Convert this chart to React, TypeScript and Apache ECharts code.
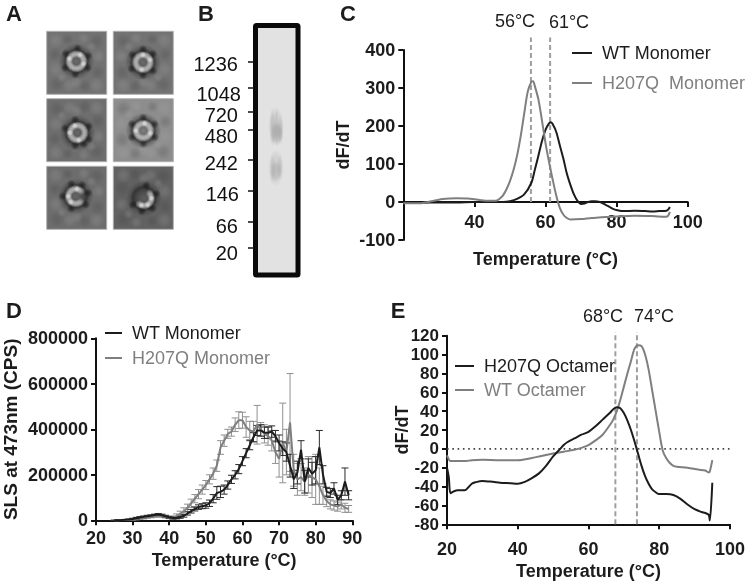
import React, { useEffect, useRef } from "react";
import * as echarts from "echarts";

const FONT = '"Liberation Sans", Arial, sans-serif';
const INK = "#1c1c1c";
const GREY = "#7f7f7f";

// Panel C
const cWtT = [20, 25, 30, 35, 40, 45, 48, 50, 52, 54, 56, 57, 58, 59, 60, 61, 61.5, 62, 63, 64, 65, 66, 67, 68, 69, 70, 71, 72, 73, 74, 75, 76, 77, 78, 79, 80, 82, 85, 88, 90, 92, 94, 94.5, 95];
const cWtV = [-2, -2, -1, -1, 0, 0, 0, 2, 8, 20, 50, 85, 122, 160, 190, 207, 210, 205, 185, 150, 115, 75, 45, 20, 3, -5, -4, 0, 2, 2, 1, -3, -8, -13, -18, -21, -24, -23, -24, -25, -24, -23, -20, -13];
const cH207T = [20, 25, 27, 30, 33, 35, 38, 41, 44, 46, 47, 48, 49, 50, 51, 52, 53, 54, 55, 56, 56.5, 57, 58, 59, 60, 61, 62, 63, 64, 65, 66, 67, 70, 73, 75, 80, 85, 90, 94, 94.5, 95];
const cH207V = [-3, -3, 0, 6, 9, 10, 9, 6, 3, 3, 8, 17, 33, 55, 84, 122, 172, 232, 290, 316, 318, 305, 270, 215, 155, 105, 60, 18, -15, -33, -42, -46, -45, -42, -41, -38, -36, -37, -39, -36, -26];

// Panel D
const dTemp = [25, 26, 27, 28, 29, 30, 31, 32, 33, 34, 35, 36, 37, 38, 39, 40, 41, 42, 43, 44, 45, 46, 47, 48, 49, 50, 51, 52, 53, 54, 55, 56, 57, 58, 59, 60, 61, 62, 63, 64, 65, 66, 67, 68, 69, 70, 71, 72, 73, 74, 75, 76, 77, 78, 79, 80, 81, 82, 83, 84, 85, 86, 87, 88, 89];
const dWt = [0, 500, 1000, 2500, 4000, 6000, 9000, 12000, 15000, 18000, 20000, 23000, 25000, 22000, 18000, 13000, 10000, 11000, 14000, 20000, 30000, 40000, 50000, 58000, 62000, 65000, 75000, 95000, 120000, 125000, 135000, 155000, 180000, 200000, 225000, 260000, 295000, 330000, 365000, 395000, 395000, 385000, 385000, 390000, 370000, 340000, 315000, 300000, 240000, 180000, 210000, 310000, 170000, 230000, 205000, 220000, 320000, 200000, 125000, 120000, 140000, 90000, 110000, 170000, 110000];
const dWtErr = [0, 300, 500, 1000, 2000, 3000, 4000, 4000, 4000, 4000, 4000, 4000, 5000, 5000, 4000, 4000, 4000, 5000, 5000, 6000, 7000, 8000, 9000, 10000, 11000, 12000, 14000, 18000, 28000, 25000, 20000, 18000, 18000, 18000, 20000, 20000, 20000, 20000, 20000, 22000, 25000, 25000, 25000, 25000, 25000, 35000, 30000, 40000, 50000, 40000, 50000, 40000, 50000, 40000, 50000, 60000, 75000, 40000, 20000, 20000, 25000, 20000, 20000, 60000, 20000];
const dH207 = [0, 300, 800, 1500, 2500, 4000, 6000, 9000, 11000, 14000, 16000, 18000, 20000, 18000, 15000, 12000, 12000, 18000, 28000, 40000, 55000, 75000, 95000, 115000, 135000, 155000, 180000, 205000, 240000, 320000, 350000, 380000, 390000, 420000, 440000, 440000, 410000, 395000, 390000, 420000, 400000, 380000, 370000, 350000, 300000, 270000, 340000, 300000, 430000, 220000, 180000, 190000, 170000, 200000, 190000, 180000, 150000, 110000, 85000, 70000, 65000, 60000, 70000, 55000, 50000];
const dH207Err = [0, 200, 500, 800, 1500, 3000, 4000, 5000, 5000, 5000, 5000, 5000, 5000, 5000, 5000, 5000, 7000, 10000, 12000, 15000, 16000, 18000, 18000, 20000, 20000, 20000, 20000, 25000, 25000, 30000, 25000, 20000, 20000, 30000, 37000, 35000, 45000, 40000, 45000, 85000, 30000, 40000, 40000, 45000, 50000, 80000, 175000, 100000, 215000, 70000, 70000, 60000, 60000, 80000, 90000, 110000, 80000, 40000, 25000, 20000, 20000, 20000, 20000, 20000, 15000];

// Panel E
const eH207T = [20, 20.5, 21, 22, 23, 25, 26, 27, 28, 30, 33, 35, 38, 40, 42, 44, 46, 48, 50, 52, 53, 54, 56, 58, 60, 62, 64, 66, 67, 68, 69, 70, 71, 72, 73, 74, 75, 76, 77, 78, 79, 80, 82, 84, 86, 88, 90, 92, 93, 94, 94.3, 95];
const eH207V = [-20, -30, -47, -45, -44, -44, -41, -37, -35.5, -34, -35, -36, -36.5, -37, -35, -31, -26, -18, -8, 0, 4, 7, 11, 15, 18, 24, 31, 38, 42, 44, 43, 38, 30, 20, 8, -5, -18, -29, -37, -43, -46, -48, -48, -49, -53, -59, -64, -67, -68, -70, -76, -36];
const eWtT = [20, 21, 22, 25, 27, 30, 35, 40, 43, 46, 50, 53, 56, 58, 60, 62, 64, 66, 67, 68, 69, 70, 71, 72, 73, 74, 75, 76, 77, 78, 79, 80, 81, 82, 83, 84, 85, 88, 91, 93, 94, 94.3, 95];
const eWtV = [-7, -13, -13, -13, -12, -11.5, -12, -12, -10.5, -8, -5, -3, -1, 1, 4, 9, 15, 25, 31, 40, 52, 66, 80, 93, 106, 110, 109, 100, 84, 62, 40, 18, -2, -10, -15, -18, -19, -20, -22, -23, -25, -24, -12];

// Panel B
const gelLabels = ["1236", "1048", "720", "480", "242", "146", "66", "20"];

// Page layout
const gelLabelY = [64, 94, 115, 136, 163, 194, 226, 253];
const gelLabelRight = [238, 241, 238, 238, 238, 239, 238, 238];
const gelTickY = [62, 88, 112, 130, 160, 191, 222, 248];

const pair = (xs: number[], ys: number[]) => xs.map((x, i) => [x, ys[i]]);

const lineSeries = (name: string, xs: number[], ys: number[], color: string, idx: number, smooth: number | boolean, width = 2) => ({
  type: "line",
  name,
  xAxisIndex: idx,
  yAxisIndex: idx,
  data: pair(xs, ys),
  showSymbol: false,
  symbol: "none",
  smooth,
  clip: false,
  z: 3,
  lineStyle: { color, width },
  itemStyle: { color },
});

const guide = (t: number, y0: number, y1: number, idx: number) => ({
  type: "line",
  xAxisIndex: idx,
  yAxisIndex: idx,
  data: [[t, y0], [t, y1]],
  showSymbol: false,
  symbol: "none",
  clip: false,
  silent: true,
  z: 2,
  lineStyle: { color: "#9e9e9e", width: 2, type: [5, 3] },
});

const errorBars = (xs: number[], ys: number[], errs: number[], color: string, idx: number) => ({
  type: "custom",
  xAxisIndex: idx,
  yAxisIndex: idx,
  silent: true,
  z: 2,
  data: xs.map((x, i) => [x, ys[i] - errs[i], ys[i] + errs[i]]),
  renderItem: (_p: any, api: any) => {
    const lo = api.coord([api.value(0), api.value(1)]);
    const hi = api.coord([api.value(0), api.value(2)]);
    const style = { stroke: color, lineWidth: 1, fill: "none" };
    const cap = 3.5;
    return {
      type: "group",
      children: [
        { type: "line", shape: { x1: lo[0], y1: lo[1], x2: hi[0], y2: hi[1] }, style },
        { type: "line", shape: { x1: lo[0] - cap, y1: lo[1], x2: lo[0] + cap, y2: lo[1] }, style },
        { type: "line", shape: { x1: hi[0] - cap, y1: hi[1], x2: hi[0] + cap, y2: hi[1] }, style },
      ],
    };
  },
});

const fixedLine = { show: true, onZero: false, lineStyle: { color: "#111", width: 2 } };

const axisCommon = (size: number, margin = 8) => ({
  axisLine: fixedLine,
  axisTick: { show: true, length: 5, lineStyle: { color: "#111", width: 2 } },
  splitLine: { show: false },
  axisLabel: { color: INK, fontFamily: FONT, fontWeight: "bold", fontSize: size, margin, formatter: (v: number) => String(v) },
  nameLocation: "middle",
  nameMoveOverlap: false,
  nameTextStyle: { color: INK, fontFamily: FONT, fontWeight: "bold", fontSize: 18 },
});

const legendAt = (left: number, top: number, gap: number, width: number, items: [string, string][]) => ({
  left,
  top,
  padding: 0,
  orient: "vertical",
  itemWidth: width,
  itemHeight: 2,
  itemGap: gap,
  icon: "rect",
  selectedMode: false,
  textStyle: { fontFamily: FONT, fontSize: 18, color: INK, padding: [0, 0, 0, 5] },
  data: items.map(([name, color]) => ({ name, textStyle: { color }, itemStyle: { color } })),
});

const text = (t: string, x: number, y: number, font: string, align = "center", fill = INK) => ({
  type: "text",
  x,
  y,
  silent: true,
  style: { text: t, font, fill, align, verticalAlign: "middle" },
});

const radial = (stops: [number, string][]) => ({
  type: "radial",
  x: 0.5,
  y: 0.5,
  r: 0.5,
  colorStops: stops.map(([offset, color]) => ({ offset, color })),
});

const blob = (cx: number, cy: number, r: number, rgb: string, a: number) => ({
  type: "circle",
  silent: true,
  shape: { cx, cy, r },
  style: { fill: radial([[0, `rgba(${rgb},${a})`], [0.5, `rgba(${rgb},${a * 0.6})`], [1, `rgba(${rgb},0)`]]) },
});

const TW = 60;
const TH = 63;
const tiles = [
  { x: 46.7, y: 31.3, bg: "#727272", cx: 29.7, cy: 30, arc: [0, 360], hot: [20, 200, 300], dark: [30, 95, 150, 215, 275, 335] },
  { x: 113.3, y: 31.3, bg: "#737373", cx: 29.7, cy: 31, arc: [0, 360], hot: [270, 340, 100], dark: [40, 90, 150, 215, 270, 320] },
  { x: 46.7, y: 98.7, bg: "#6e6e6e", cx: 30.7, cy: 34, arc: [0, 360], hot: [250, 180, 80], dark: [30, 60, 100, 200, 260, 330] },
  { x: 113.3, y: 98.7, bg: "#8d8d8d", cx: 30, cy: 32, arc: [0, 360], hot: [180, 20, 280], dark: [30, 90, 150, 210, 270, 330] },
  { x: 46.7, y: 166.3, bg: "#6d6d6d", cx: 29, cy: 30, arc: [50, 320], hot: [180, 130, 280], dark: [40, 110, 180, 250, 300, 345] },
  { x: 113.3, y: 166.3, bg: "#616161", cx: 30.7, cy: 32, arc: [-40, 150], hot: [60, 110, 0], dark: [50, 100, 150, 280, 340] },
];
const mottle = [
  [9, 9, 8, 1], [21, 8, 6, 0], [37, 7, 6, 1], [50, 10, 8, 0], [8, 23, 7, 0], [52, 25, 7, 1],
  [9, 38, 8, 1], [51, 41, 8, 0], [10, 53, 8, 0], [23, 54, 7, 1], [38, 55, 7, 0], [50, 54, 8, 1], [15, 46, 5, 1], [45, 15, 5, 1], [30, 51, 6, 1],
];

const tileElements = () => {
  const out: any[] = [];
  tiles.forEach((t, i) => {
    out.push({ type: "rect", silent: true, shape: { x: t.x, y: t.y, width: TW, height: TH }, style: { fill: t.bg, stroke: "#b0b0b0", lineWidth: 1 } });
    mottle.forEach(([mx, my, r, light]) => {
      const px = i % 2 ? TW - mx : mx;
      const py = i % 3 === 2 ? TH - my : my;
      out.push(blob(t.x + px, t.y + py, r, light ? "175,175,175" : "55,55,55", 0.22));
    });
    const cx = t.x + t.cx;
    const cy = t.y + t.cy;
    out.push({
      type: "circle",
      silent: true,
      shape: { cx, cy, r: 18 },
      style: { fill: radial([[0, "rgba(80,80,80,0.25)"], [0.62, "rgba(35,35,35,0.72)"], [0.8, "rgba(50,50,50,0.3)"], [1, "rgba(50,50,50,0)"]]) },
    });
    t.dark.forEach((a) => {
      const rad = (a * Math.PI) / 180;
      out.push(blob(cx + 13 * Math.cos(rad), cy + 13 * Math.sin(rad), 4.5, "15,15,15", 0.6));
    });
    for (let a = t.arc[0]; a < t.arc[1]; a += 24) {
      const rad = (a * Math.PI) / 180;
      out.push(blob(cx + 7.5 * Math.cos(rad), cy + 7.5 * Math.sin(rad), 4.2, "225,225,225", 0.55));
    }
    t.hot.forEach((a) => {
      const rad = (a * Math.PI) / 180;
      out.push(blob(cx + 7.5 * Math.cos(rad), cy + 7.5 * Math.sin(rad), 3.2, "250,250,250", 0.6));
    });
  });
  return out;
};

const gelElements = () => {
  const smear = [
    [276, 126, 8, 20, 0.14], [277, 134, 6.5, 12, 0.2], [272.5, 128, 3, 20, 0.14], [276.5, 125, 2.5, 18, 0.1], [280.5, 130, 3, 15, 0.14],
    [276, 168, 8, 19, 0.14], [276, 171, 6, 11, 0.14], [272.5, 169, 3, 16, 0.1], [280, 167, 3, 13, 0.1],
  ];
  const out: any[] = [
    { type: "rect", silent: true, shape: { x: 255.5, y: 25.5, width: 42.5, height: 249.5, r: 1 }, style: { fill: "#e2e2e2", stroke: "#0a0a0a", lineWidth: 5 } },
  ];
  smear.forEach(([cx, cy, rx, ry, a]) => {
    out.push({
      type: "ellipse",
      silent: true,
      shape: { cx, cy, rx, ry },
      style: { fill: radial([[0, `rgba(70,70,70,${a})`], [0.6, `rgba(70,70,70,${a * 0.7})`], [1, "rgba(70,70,70,0)"]]) },
    });
  });
  gelLabels.forEach((label, i) => {
    out.push(text(label, gelLabelRight[i], gelLabelY[i], `20px ${FONT}`, "right", "#111"));
    out.push({ type: "line", silent: true, shape: { x1: 248, y1: gelTickY[i], x2: 254, y2: gelTickY[i] }, style: { stroke: "#111", lineWidth: 1.5 } });
  });
  return out;
};

export default function App() {
  const ref = useRef<HTMLDivElement>(null);
  useEffect(() => {
    const chart = echarts.init(ref.current!, undefined, { renderer: "svg" });
    const letter = `bold 22px ${FONT}`;
    const peak = `18px ${FONT}`;
    const cX = axisCommon(18, -27);
    chart.setOption({
      animation: false,
      backgroundColor: "#fff",
      grid: [
        { left: 403.3, top: 50, width: 284.4, height: 190 },
        { left: 95.3, top: 338.3, width: 257, height: 182 },
        { left: 447, top: 335.7, width: 283, height: 188.6 },
      ],
      xAxis: [
        {
          ...cX, gridIndex: 0, type: "value", min: 20, max: 100, interval: 20,
          axisLine: { ...fixedLine, onZero: true },
          axisLabel: { ...cX.axisLabel, formatter: (v: number) => (v === 20 ? "" : String(v)) },
          name: "Temperature (°C)", nameGap: 10,
        },
        { ...axisCommon(18, 9), gridIndex: 1, type: "value", min: 20, max: 90, interval: 10, name: "Temperature (°C)", nameGap: 31 },
        { ...axisCommon(18, 16), gridIndex: 2, type: "value", min: 20, max: 100, interval: 20, name: "Temperature (°C)", nameGap: 38 },
      ],
      yAxis: [
        { ...axisCommon(18), gridIndex: 0, type: "value", min: -100, max: 400, interval: 100, name: "dF/dT", nameGap: 51 },
        { ...axisCommon(18), gridIndex: 1, type: "value", min: 0, max: 800000, interval: 200000, name: "SLS at 473nm (CPS)", nameGap: 76, nameTextStyle: { ...axisCommon(18).nameTextStyle, fontSize: 19 } },
        { ...axisCommon(17), gridIndex: 2, type: "value", min: -80, max: 120, interval: 20, name: "dF/dT", nameGap: 36 },
      ],
      legend: [
        legendAt(572, 44, 12, 20, [["WT Monomer", INK], ["H207Q  Monomer", GREY]]),
        legendAt(105, 324, 7, 17, [["WT Monomer ", INK], ["H207Q Monomer", GREY]]),
        legendAt(455, 357, 6, 19, [["H207Q Octamer", INK], ["WT Octamer", GREY]]),
      ],
      series: [
        guide(55.9, 0, 433, 0),
        guide(61.3, 0, 433, 0),
        lineSeries("WT Monomer", cWtT, cWtV, INK, 0, 0.3),
        lineSeries("H207Q  Monomer", cH207T, cH207V, GREY, 0, 0.3),

        errorBars(dTemp, dH207, dH207Err, "#909090", 1),
        lineSeries("H207Q Monomer", dTemp, dH207, GREY, 1, false),
        errorBars(dTemp, dWt, dWtErr, "#2a2a2a", 1),
        lineSeries("WT Monomer ", dTemp, dWt, INK, 1, false),

        {
          type: "line", xAxisIndex: 2, yAxisIndex: 2, data: [[20, 0], [100, 0]], showSymbol: false, symbol: "none", silent: true, z: 1,
          lineStyle: { color: "#444", width: 1.6, type: [1.6, 3.7] },
        },
        guide(67.6, -80, 124, 2),
        guide(73.7, -80, 124, 2),
        lineSeries("WT Octamer", eWtT, eWtV, GREY, 2, 0.3),
        lineSeries("H207Q Octamer", eH207T, eH207V, INK, 2, 0.3),
      ],
      graphic: {
        elements: [
          ...tileElements(),
          ...gelElements(),
          text("A", 14, 13, letter),
          text("B", 206, 13, letter),
          text("C", 348, 13, letter),
          text("D", 14, 310, letter),
          text("E", 398, 310, letter),
          text("56°C", 515, 20.5, peak),
          text("61°C", 569, 22, peak),
          text("68°C", 603, 316, peak),
          text("74°C", 654, 316, peak),
        ],
      },
    });
    return () => chart.dispose();
  }, []);
  return <div ref={ref} style={{ position: "absolute", left: 0, top: 0, width: 748, height: 584, filter: "blur(0.35px)" }} />;
}
